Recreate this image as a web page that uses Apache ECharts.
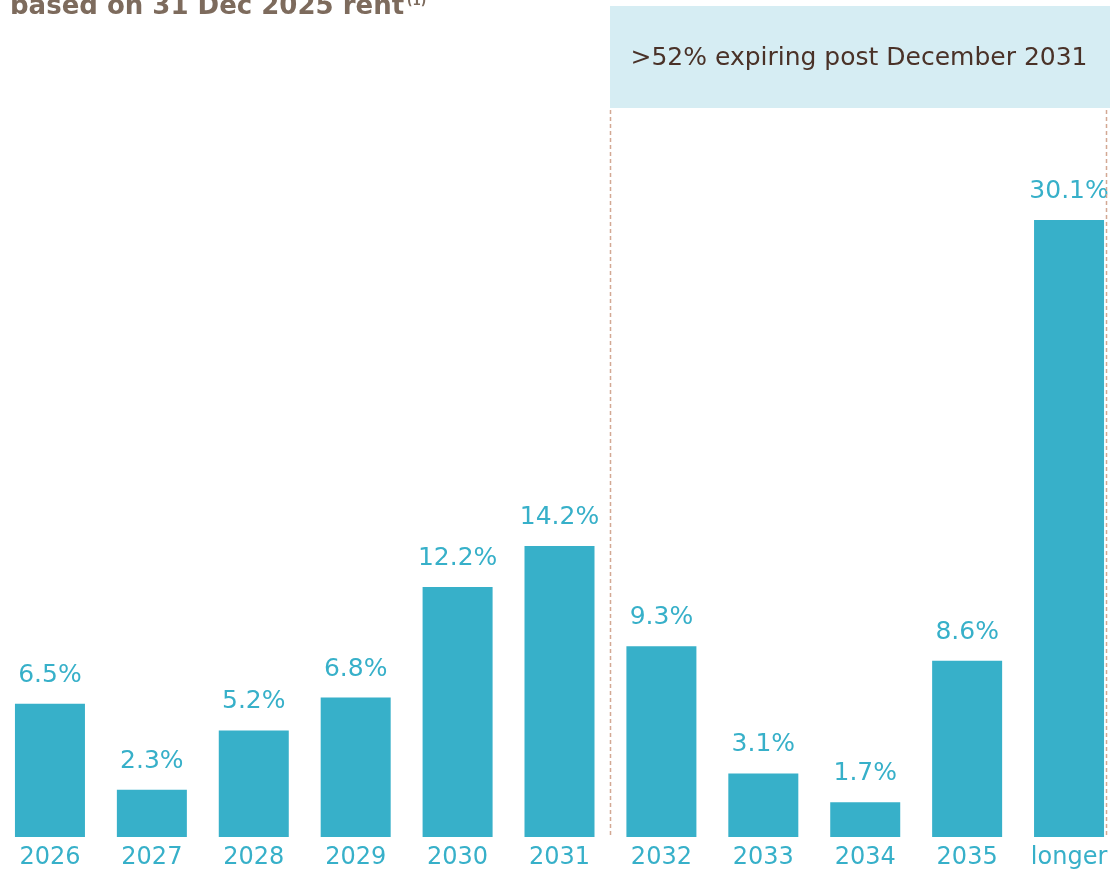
<!DOCTYPE html>
<html>
<head>
<meta charset="utf-8">
<script src="https://cdn.jsdelivr.net/npm/echarts@6/dist/echarts.min.js"></script>
<style>
html,body{margin:0;padding:0;background:#fff;}
#main{width:1110px;height:875px;}
</style>
</head>
<body>
<div id="main"></div>
<script>
const categories = ['2026','2027','2028','2029','2030','2031','2032','2033','2034','2035','longer'];
const expiryShare = [6.5, 2.3, 5.2, 6.8, 12.2, 14.2, 9.3, 3.1, 1.7, 8.6, 30.1];
const titleLine = 'based on 31 Dec 2025 rent';
const titleNote = '(1)';
const calloutText = '>52% expiring post December 2031';

const FONT = '"DejaVu Sans", sans-serif';
const BAR = '#37b0c9';

const chart = echarts.init(document.getElementById('main'));
chart.setOption({
  animation: false,
  backgroundColor: '#ffffff',
  grid: { left: -1, right: -10, top: 17, bottom: 38, containLabel: false, outerBoundsMode: 'none' },
  xAxis: {
    type: 'category',
    data: categories,
    axisLine: { show: false },
    axisTick: { show: false },
    axisLabel: { color: BAR, fontFamily: FONT, fontSize: 24, margin: 9, interval: 0 }
  },
  yAxis: { type: 'value', min: 0, max: 40, show: false, splitLine: { show: false } },
  series: [{
    type: 'bar',
    data: expiryShare,
    barWidth: 70,
    itemStyle: { color: BAR },
    label: {
      show: true, position: 'top', distance: 16,
      color: BAR, fontFamily: FONT, fontSize: 25,
      formatter: p => p.value.toFixed(1) + '%'
    }
  }],
  graphic: [
    { type: 'rect', shape: { x: 610, y: 6, width: 500, height: 102 }, style: { fill: '#d6edf3' }, z: 0 },
    { type: 'text', x: 859, y: 58, style: { text: calloutText, fill: '#4a3228', font: '25px ' + FONT, textAlign: 'center', textVerticalAlign: 'middle' }, z: 5 },
    { type: 'line', shape: { x1: 610.5, y1: 110, x2: 610.5, y2: 837 }, style: { stroke: '#d3a893', lineWidth: 1.5, lineDash: [4, 3] }, z: 5 },
    { type: 'line', shape: { x1: 1106.5, y1: 110, x2: 1106.5, y2: 837 }, style: { stroke: '#d3a893', lineWidth: 1.5, lineDash: [4, 3] }, z: 5 },
    { type: 'text', x: 10, y: -6, style: { text: titleLine, fill: '#7d6b5d', font: 'bold 26px ' + FONT }, z: 5 },
    { type: 'text', x: 407, y: -4, style: { text: titleNote, fill: '#7d6b5d', font: 'bold 12px ' + FONT }, z: 5 }
  ]
});
</script>
</body>
</html>
